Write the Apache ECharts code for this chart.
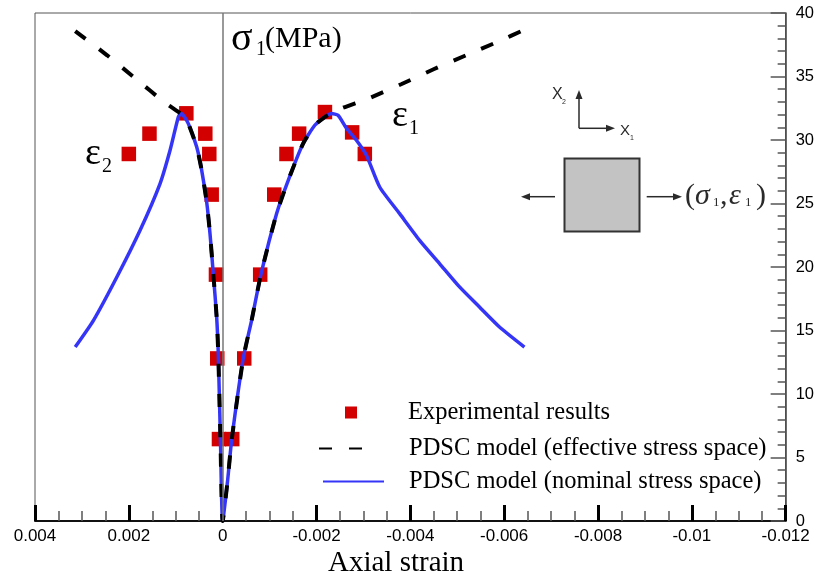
<!DOCTYPE html>
<html>
<head>
<meta charset="utf-8">
<script src="https://cdn.jsdelivr.net/npm/echarts@6/dist/echarts.min.js"></script>
<style>
  html, body { margin: 0; padding: 0; background: #fff; }
  #chart { width: 817px; height: 577px; }
</style>
</head>
<body>
<div id="chart"></div>
<script>
// Experimental results (axial strain, stress in MPa)
const expStrain = [0.00200, 0.00156, 0.000774, 0.00037, 0.000285, 0.000234, 0.000143, 0.000115, 0.0000787,
                   -0.000204, -0.00046, -0.0008, -0.0011, -0.00136, -0.00163, -0.00218, -0.00276, -0.00303];
const expStress = [28.9, 30.5, 32.1, 30.5, 28.9, 25.7, 19.4, 12.8, 6.45,
                   6.45, 12.8, 19.4, 25.7, 28.9, 30.5, 32.2, 30.6, 28.9];

// PDSC model, nominal stress space: lateral branch -> origin -> axial branch
const nominalStrain = [0.003143, 0.002753, 0.002255, 0.00176, 0.001334, 0.001121, 0.000945, 0.000894, 0.000838,
                       0.000732, 0.000553, 0.000447, 0.00034, 0.00027, 0.0002, 0.000128, 0.0000936, 0.0000468, 0,
                       -0.000106, -0.000191, -0.000438, -0.000617, -0.000815, -0.001149, -0.001396, -0.001715,
                       -0.001964, -0.002177, -0.002319, -0.00246, -0.002638, -0.002851, -0.003064, -0.003347,
                       -0.003772, -0.004198, -0.004623, -0.005049, -0.005474, -0.0059, -0.006432];
const nominalStress = [13.70, 15.80, 19.21, 22.89, 26.57, 29.19, 31.81, 32.08, 31.94,
                       31.29, 29.45, 27.61, 25.09, 22.63, 19.48, 16.06, 13.18, 6.35, 0,
                       3.2, 6.35, 12.79, 15.8, 19.4, 24.2, 26.81, 29.72,
                       31.16, 31.81, 32.08, 31.94, 30.92, 29.98, 28.80, 26.30,
                       24.20, 22.10, 20.27, 18.43, 16.85, 15.28, 13.70];

// PDSC model, effective stress space
const effectiveStrain = [0.003143, 0.002462, 0.001845, 0.001249, 0.000994, 0.000894, 0.000838,
                         0.000732, 0.000553, 0.000447, 0.00034, 0.00027, 0.0002, 0.000128, 0.0000936, 0.0000468, 0,
                         -0.000106, -0.000191, -0.000438, -0.000617, -0.000815, -0.001149, -0.001396, -0.001715,
                         -0.001964, -0.002177, -0.002319, -0.002515, -0.003113, -0.003804, -0.004496, -0.005187,
                         -0.005879, -0.006432];
const effectiveStress = [38.58, 36.67, 34.80, 32.99, 32.34, 32.08, 31.94,
                         31.29, 29.45, 27.61, 25.09, 22.63, 19.48, 16.06, 13.18, 6.35, 0,
                         3.2, 6.35, 12.79, 15.8, 19.4, 24.2, 26.81, 29.72,
                         31.16, 31.81, 32.08, 32.47, 33.28, 34.39, 35.57, 36.67,
                         37.76, 38.68];

// Axis ticks
const strainTicks = { min: -0.012, max: 0.004, step: 0.002 };
const stressTicks = { min: 0, max: 40, step: 5 };

const zip = (a, b) => a.map((v, i) => [v, b[i]]);

const SERIF = '"Liberation Serif", "Times New Roman", serif';
const SANS = '"Liberation Sans", Arial, sans-serif';

const chart = echarts.init(document.getElementById('chart'), null, { renderer: 'canvas' });

function txt(x, y, text, size, opts) {
  opts = opts || {};
  return {
    type: 'text', x: x, y: y, silent: true, z: 100,
    style: {
      text: text,
      font: (opts.italic ? 'italic ' : '') + size + 'px ' + (opts.family || SERIF),
      fill: opts.color || '#000',
      textAlign: opts.align || 'left', align: opts.align || 'left',
      textVerticalAlign: 'middle', verticalAlign: 'middle'
    }
  };
}
function seg(x1, y1, x2, y2, color, w) {
  return { type: 'line', silent: true, z: 100, shape: { x1: x1, y1: y1, x2: x2, y2: y2 },
           style: { stroke: color, lineWidth: w } };
}
function head(points, color) {
  return { type: 'polygon', silent: true, z: 100, shape: { points: points }, style: { fill: color } };
}

const inkGray = '#2a2a2a';
const legendText = { fontFamily: SERIF, fontSize: 24.5, color: '#000' };

chart.setOption({
  animation: false,
  backgroundColor: '#fff',
  grid: { left: 35, right: 30, top: 13, bottom: 56, show: true, borderColor: '#555', borderWidth: 1 },
  xAxis: {
    type: 'value', inverse: true,
    min: strainTicks.min, max: strainTicks.max, interval: strainTicks.step,
    axisLine: { show: true, onZero: false, lineStyle: { color: '#111', width: 2 } },
    axisTick: { show: true, inside: true, length: 16, lineStyle: { color: '#000', width: 3 } },
    minorTick: { show: true, splitNumber: 4, length: 10, lineStyle: { color: '#555', width: 1.5 } },
    splitLine: { show: false },
    axisLabel: {
      fontFamily: SANS, fontSize: 17, color: '#000', margin: 7,
      formatter: v => String(parseFloat(v.toFixed(4)))
    }
  },
  yAxis: {
    type: 'value', position: 'right',
    min: stressTicks.min, max: stressTicks.max, interval: stressTicks.step,
    axisLine: { show: true, onZero: false, lineStyle: { color: '#444', width: 1.5 } },
    axisTick: { show: true, inside: true, length: 15, lineStyle: { color: '#555', width: 1.5 } },
    minorTick: { show: true, splitNumber: 5, length: 8, lineStyle: { color: '#555', width: 1.5 } },
    splitLine: { show: false },
    axisLabel: { fontFamily: SANS, fontSize: 16.5, color: '#000', margin: 10 }
  },
  legend: [
    {
      data: [{ name: 'Experimental results', icon: 'rect' }],
      left: 345, top: 400, padding: 0, itemWidth: 12, itemHeight: 12, selectedMode: false,
      textStyle: Object.assign({ padding: [0, 0, 0, 46] }, legendText)
    },
    {
      data: ['PDSC model (effective stress space)'],
      left: 318, top: 436, padding: 0, itemWidth: 52, itemHeight: 14, selectedMode: false,
      itemStyle: { opacity: 0 },
      textStyle: Object.assign({ padding: [0, 0, 0, 33] }, legendText)
    },
    {
      data: ['PDSC model (nominal stress space)'],
      left: 322, top: 469, padding: 0, itemWidth: 61, itemHeight: 14, selectedMode: false,
      itemStyle: { opacity: 0 },
      textStyle: Object.assign({ padding: [0, 0, 0, 20] }, legendText)
    }
  ],
  series: [
    {
      name: 'Experimental results', type: 'scatter', z: 2,
      symbol: 'rect', symbolSize: 14.5,
      itemStyle: { color: '#d20000', opacity: 1 },
      data: zip(expStrain, expStress),
      markLine: {
        silent: true, symbol: 'none', label: { show: false },
        lineStyle: { color: '#777', width: 1.5, type: 'solid' },
        data: [{ xAxis: 0 }]
      }
    },
    {
      name: 'PDSC model (nominal stress space)', type: 'line', z: 3,
      symbol: 'none', smooth: 0.2,
      lineStyle: { color: '#3535f8', width: 3.5 },
      itemStyle: { color: '#3535f8' },
      data: zip(nominalStrain, nominalStress)
    },
    {
      name: 'PDSC model (effective stress space)', type: 'line', z: 4,
      symbol: 'none', smooth: 0.2,
      lineStyle: { color: '#000', width: 4, type: [13, 17] },
      itemStyle: { color: '#000' },
      data: zip(effectiveStrain, effectiveStress)
    }
  ],
  graphic: [
    // vertical axis title
    txt(231, 39, 'σ', 40),
    txt(256, 50, '1', 20),
    txt(265, 39, '(MPa)', 30),
    // branch labels
    txt(85, 154, 'ε', 38),
    txt(102, 167, '2', 20),
    txt(392, 116, 'ε', 38),
    txt(409, 129, '1', 20),
    // horizontal axis title
    txt(396, 563, 'Axial strain', 29, { align: 'center' }),
    // loading sketch
    seg(579, 128.3, 579, 97, inkGray, 1.5),
    head([[579, 90], [575.5, 99], [582.5, 99]], inkGray),
    seg(579, 128.3, 608, 128.3, inkGray, 1.5),
    head([[615, 128.3], [606, 124.8], [606, 131.8]], inkGray),
    txt(552, 95, 'X', 16, { family: SANS, color: inkGray }),
    txt(562, 102, '2', 7, { family: SANS, color: inkGray }),
    txt(620, 131, 'X', 15, { family: SANS, color: inkGray }),
    txt(630, 138, '1', 7, { family: SANS, color: inkGray }),
    {
      type: 'rect', silent: true, z: 100,
      shape: { x: 564.5, y: 158.5, width: 75, height: 73 },
      style: { fill: '#c3c3c3', stroke: '#333', lineWidth: 2 }
    },
    seg(555, 196.7, 528, 196.7, inkGray, 1.5),
    head([[521, 196.7], [530, 193.2], [530, 200.2]], inkGray),
    seg(646.7, 196.7, 674, 196.7, inkGray, 1.5),
    head([[682, 196.7], [673, 193.2], [673, 200.2]], inkGray),
    txt(685, 196, '(', 30, { color: inkGray }),
    txt(695, 196, 'σ', 30, { italic: true, color: inkGray }),
    txt(713, 203, '1', 13, { color: inkGray }),
    txt(720, 196, ',', 30, { color: inkGray }),
    txt(729, 196, 'ε', 30, { italic: true, color: inkGray }),
    txt(745, 203, '1', 13, { color: inkGray }),
    txt(756, 196, ')', 30, { color: inkGray })
  ]
});
</script>
</body>
</html>
